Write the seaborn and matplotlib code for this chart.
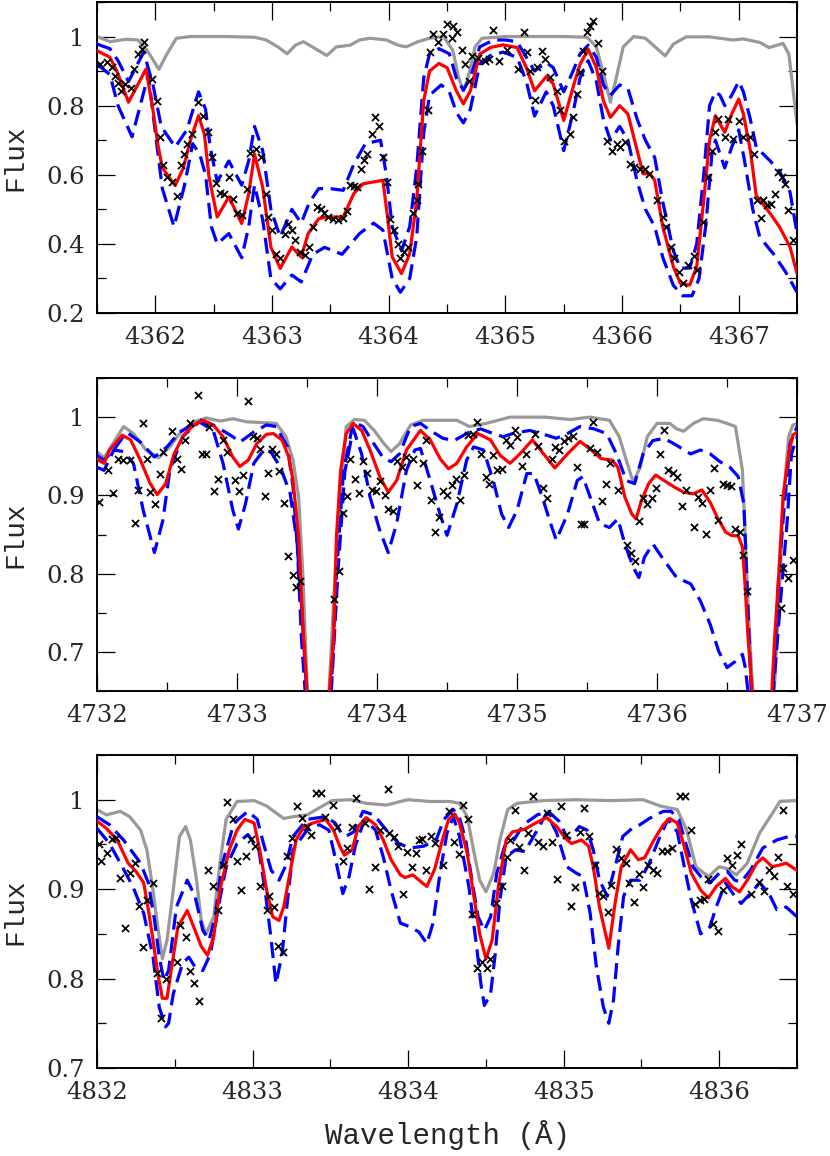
import numpy as np
import matplotlib
matplotlib.use("Agg")
import matplotlib.pyplot as plt
from matplotlib.ticker import MultipleLocator, FuncFormatter
import seaborn as sns

sns.set_style("ticks")
plt.rcParams['font.family'] = ['DejaVu Serif']

# ---------------- panel 1 : 4361.5 - 4367.5 ----------------
gray1 = [(4361.5, 1.0), (4361.61, 0.985), (4361.75, 0.992), (4361.85, 0.99), (4361.93, 0.96),
         (4362.03, 0.905), (4362.10, 0.95), (4362.18, 0.995), (4362.3, 1.0), (4362.6, 1.0),
         (4362.85, 0.998), (4362.95, 0.99), (4363.05, 0.97), (4363.13, 0.95), (4363.2, 0.975),
         (4363.27, 0.985), (4363.37, 0.965), (4363.47, 0.945), (4363.55, 0.97), (4363.67, 0.975),
         (4363.75, 0.99), (4363.84, 0.995), (4363.98, 0.99), (4364.08, 0.975), (4364.15, 0.97),
         (4364.25, 0.985), (4364.35, 0.995), (4364.47, 1.0), (4364.55, 0.96), (4364.6, 0.88),
         (4364.64, 0.843), (4364.68, 0.88), (4364.74, 0.97), (4364.80, 0.995), (4365.0, 1.0),
         (4365.5, 1.0), (4365.70, 0.998), (4365.78, 0.97), (4365.85, 0.88), (4365.90, 0.81),
         (4365.95, 0.88), (4366.01, 0.97), (4366.1, 1.0), (4366.2, 0.995), (4366.3, 0.965),
         (4366.37, 0.944), (4366.44, 0.978), (4366.55, 0.999), (4366.75, 0.999), (4366.95, 0.99),
         (4367.04, 0.993), (4367.18, 0.983), (4367.26, 0.968), (4367.38, 0.98), (4367.43, 0.949),
         (4367.47, 0.834), (4367.5, 0.747)]
red1 = [(4361.5, 0.959), (4361.61, 0.94), (4361.67, 0.90), (4361.77, 0.81), (4361.92, 0.906),
        (4361.98, 0.786), (4362.02, 0.69), (4362.06, 0.62), (4362.17, 0.569), (4362.24, 0.62),
        (4362.30, 0.70), (4362.37, 0.771), (4362.42, 0.718), (4362.46, 0.593), (4362.53, 0.478),
        (4362.63, 0.536), (4362.74, 0.459), (4362.80, 0.545), (4362.85, 0.66), (4362.92, 0.564),
        (4362.99, 0.391), (4363.07, 0.329), (4363.17, 0.391), (4363.25, 0.362), (4363.31, 0.43),
        (4363.40, 0.473), (4363.47, 0.478), (4363.61, 0.478), (4363.70, 0.545), (4363.78, 0.574),
        (4363.95, 0.584), (4363.99, 0.478), (4364.03, 0.362), (4364.11, 0.314), (4364.18, 0.372),
        (4364.24, 0.526), (4364.30, 0.814), (4364.35, 0.90), (4364.43, 0.922), (4364.50, 0.91),
        (4364.58, 0.843), (4364.64, 0.805), (4364.70, 0.843), (4364.78, 0.949), (4364.87, 0.968),
        (4364.98, 0.976), (4365.10, 0.968), (4365.18, 0.91), (4365.25, 0.843), (4365.35, 0.884),
        (4365.41, 0.863), (4365.50, 0.757), (4365.58, 0.853), (4365.64, 0.92), (4365.71, 0.963),
        (4365.78, 0.91), (4365.84, 0.814), (4365.90, 0.766), (4365.98, 0.80), (4366.05, 0.776),
        (4366.13, 0.67), (4366.18, 0.603), (4366.24, 0.603), (4366.28, 0.584), (4366.35, 0.449),
        (4366.44, 0.334), (4366.50, 0.286), (4366.58, 0.281), (4366.64, 0.334), (4366.70, 0.526),
        (4366.75, 0.70), (4366.80, 0.771), (4366.84, 0.747), (4366.88, 0.723), (4366.94, 0.776),
        (4367.00, 0.819), (4367.04, 0.776), (4367.10, 0.67), (4367.15, 0.54), (4367.27, 0.488),
        (4367.35, 0.449), (4367.44, 0.391), (4367.5, 0.314)]
up1 = [(4361.5, 0.978), (4361.61, 0.965), (4361.68, 0.93), (4361.77, 0.87), (4361.90, 0.955),
       (4361.98, 0.86), (4362.05, 0.74), (4362.17, 0.68), (4362.27, 0.73), (4362.37, 0.84),
       (4362.43, 0.79), (4362.47, 0.68), (4362.53, 0.58), (4362.63, 0.64), (4362.74, 0.57),
       (4362.80, 0.64), (4362.85, 0.74), (4362.92, 0.67), (4362.99, 0.50), (4363.07, 0.42),
       (4363.17, 0.50), (4363.25, 0.46), (4363.32, 0.52), (4363.40, 0.56), (4363.50, 0.56),
       (4363.61, 0.555), (4363.70, 0.63), (4363.80, 0.69), (4363.93, 0.70), (4363.98, 0.60),
       (4364.03, 0.45), (4364.11, 0.38), (4364.18, 0.45), (4364.24, 0.62), (4364.30, 0.88),
       (4364.35, 0.95), (4364.43, 0.965), (4364.52, 0.95), (4364.58, 0.88), (4364.64, 0.845),
       (4364.70, 0.88), (4364.78, 0.97), (4364.9, 0.99), (4365.0, 0.99), (4365.1, 0.985),
       (4365.18, 0.94), (4365.25, 0.90), (4365.35, 0.925), (4365.41, 0.91), (4365.50, 0.84),
       (4365.58, 0.90), (4365.64, 0.95), (4365.71, 0.975), (4365.78, 0.94), (4365.84, 0.86),
       (4365.90, 0.83), (4365.98, 0.86), (4366.05, 0.85), (4366.13, 0.76), (4366.20, 0.70),
       (4366.28, 0.65), (4366.35, 0.52), (4366.44, 0.38), (4366.50, 0.33), (4366.58, 0.33),
       (4366.64, 0.40), (4366.70, 0.60), (4366.75, 0.80), (4366.80, 0.84), (4366.84, 0.83),
       (4366.88, 0.80), (4366.94, 0.83), (4367.00, 0.87), (4367.04, 0.84), (4367.10, 0.76),
       (4367.15, 0.68), (4367.27, 0.64), (4367.35, 0.61), (4367.44, 0.55), (4367.5, 0.43)]
lo1 = [(4361.5, 0.92), (4361.61, 0.89), (4361.68, 0.80), (4361.80, 0.71), (4361.94, 0.89),
       (4362.0, 0.72), (4362.06, 0.56), (4362.16, 0.45), (4362.25, 0.57), (4362.32, 0.69),
       (4362.38, 0.66), (4362.43, 0.60), (4362.48, 0.45), (4362.53, 0.40), (4362.63, 0.43),
       (4362.74, 0.36), (4362.80, 0.45), (4362.85, 0.57), (4362.92, 0.47), (4362.99, 0.30),
       (4363.07, 0.27), (4363.17, 0.31), (4363.25, 0.29), (4363.35, 0.37), (4363.45, 0.39),
       (4363.6, 0.37), (4363.75, 0.43), (4363.87, 0.46), (4363.95, 0.44), (4364.03, 0.30),
       (4364.1, 0.26), (4364.18, 0.30), (4364.24, 0.42), (4364.30, 0.72), (4364.35, 0.83),
       (4364.45, 0.86), (4364.52, 0.84), (4364.58, 0.78), (4364.64, 0.75), (4364.70, 0.79),
       (4364.78, 0.92), (4364.87, 0.945), (4364.98, 0.955), (4365.10, 0.94), (4365.18, 0.87),
       (4365.25, 0.77), (4365.35, 0.84), (4365.41, 0.80), (4365.50, 0.67), (4365.58, 0.78),
       (4365.64, 0.88), (4365.71, 0.93), (4365.78, 0.87), (4365.84, 0.76), (4365.90, 0.70),
       (4365.98, 0.74), (4366.05, 0.70), (4366.13, 0.58), (4366.20, 0.50), (4366.28, 0.45),
       (4366.35, 0.36), (4366.44, 0.28), (4366.52, 0.25), (4366.60, 0.25), (4366.66, 0.30),
       (4366.72, 0.46), (4366.77, 0.66), (4366.80, 0.70), (4366.88, 0.62), (4366.94, 0.68),
       (4367.00, 0.73), (4367.05, 0.64), (4367.12, 0.50), (4367.18, 0.42), (4367.30, 0.37),
       (4367.40, 0.32), (4367.5, 0.26)]
obs1 = [(4361.526, 0.920), (4361.583, 0.925), (4361.626, 0.911), (4361.654, 0.887), (4361.683, 0.867),
        (4361.703, 0.843), (4361.740, 0.862), (4361.789, 0.851), (4361.817, 0.906), (4361.849, 0.949),
        (4361.883, 0.963), (4361.903, 0.983), (4361.969, 0.877), (4362.011, 0.814), (4362.040, 0.709),
        (4362.069, 0.627), (4362.097, 0.593), (4362.140, 0.579), (4362.189, 0.540), (4362.217, 0.627),
        (4362.246, 0.661), (4362.274, 0.688), (4362.311, 0.718), (4362.369, 0.810), (4362.411, 0.771),
        (4362.454, 0.723), (4362.483, 0.651), (4362.520, 0.576), (4362.554, 0.547), (4362.589, 0.545),
        (4362.634, 0.593), (4362.669, 0.531), (4362.703, 0.488), (4362.746, 0.483), (4362.783, 0.560),
        (4362.811, 0.662), (4362.863, 0.675), (4362.903, 0.651), (4362.946, 0.545), (4362.969, 0.478),
        (4363.003, 0.439), (4363.034, 0.372), (4363.069, 0.358), (4363.111, 0.430), (4363.140, 0.459),
        (4363.169, 0.439), (4363.197, 0.411), (4363.240, 0.377), (4363.283, 0.367), (4363.320, 0.391),
        (4363.354, 0.449), (4363.383, 0.507), (4363.417, 0.502), (4363.449, 0.488), (4363.483, 0.478),
        (4363.526, 0.473), (4363.569, 0.468), (4363.606, 0.476), (4363.640, 0.495), (4363.669, 0.571),
        (4363.703, 0.569), (4363.731, 0.566), (4363.760, 0.617), (4363.789, 0.643), (4363.811, 0.661),
        (4363.854, 0.718), (4363.886, 0.766), (4363.914, 0.742), (4363.954, 0.651), (4363.983, 0.579),
        (4364.011, 0.473), (4364.046, 0.441), (4364.083, 0.401), (4364.097, 0.358), (4364.131, 0.377),
        (4364.169, 0.391), (4364.211, 0.488), (4364.240, 0.526), (4364.254, 0.574), (4364.283, 0.670),
        (4364.340, 0.786), (4364.354, 0.954), (4364.383, 1.007), (4364.426, 0.983), (4364.469, 1.007),
        (4364.503, 1.037), (4364.540, 0.995), (4364.554, 1.031), (4364.583, 1.012), (4364.626, 0.961),
        (4364.654, 0.920), (4364.691, 0.872), (4364.711, 0.944), (4364.769, 0.939), (4364.826, 0.930),
        (4364.863, 0.935), (4364.891, 1.018), (4364.949, 0.930), (4365.011, 0.961), (4365.111, 0.906),
        (4365.160, 1.014), (4365.189, 0.954), (4365.211, 0.901), (4365.254, 0.817), (4365.269, 0.911),
        (4365.311, 0.959), (4365.340, 0.935), (4365.383, 0.882), (4365.440, 0.843), (4365.469, 0.786),
        (4365.503, 0.699), (4365.554, 0.718), (4365.577, 0.766), (4365.611, 0.834), (4365.640, 0.896),
        (4365.669, 0.959), (4365.697, 1.012), (4365.726, 1.031), (4365.754, 1.045), (4365.791, 0.980),
        (4365.826, 0.901), (4365.869, 0.699), (4365.911, 0.670), (4365.954, 0.689), (4365.983, 0.680),
        (4366.026, 0.694), (4366.069, 0.632), (4366.103, 0.622), (4366.154, 0.617), (4366.197, 0.617),
        (4366.234, 0.603), (4366.297, 0.526), (4366.349, 0.478), (4366.377, 0.449), (4366.417, 0.391),
        (4366.446, 0.358), (4366.491, 0.319), (4366.526, 0.286), (4366.563, 0.338), (4366.617, 0.364),
        (4366.646, 0.324), (4366.691, 0.463), (4366.740, 0.593), (4366.769, 0.670), (4366.797, 0.723),
        (4366.826, 0.762), (4366.883, 0.709), (4366.911, 0.762), (4366.949, 0.704), (4367.006, 0.757),
        (4367.040, 0.709), (4367.097, 0.709), (4367.131, 0.659), (4367.154, 0.528), (4367.189, 0.476),
        (4367.211, 0.528), (4367.240, 0.514), (4367.274, 0.516), (4367.311, 0.545), (4367.340, 0.608),
        (4367.369, 0.593), (4367.397, 0.574), (4367.426, 0.497), (4367.463, 0.411)]

# ---------------- panel 2 : 4732 - 4737 ----------------
gray2 = [(4732.0, 0.956), (4732.05, 0.948), (4732.12, 0.968), (4732.19, 0.988), (4732.26, 0.979),
         (4732.35, 0.958), (4732.44, 0.948), (4732.52, 0.962), (4732.59, 0.979), (4732.69, 0.994),
         (4732.78, 0.999), (4732.88, 0.995), (4732.97, 0.998), (4733.07, 0.994), (4733.19, 0.993),
         (4733.28, 0.992), (4733.35, 0.975), (4733.40, 0.945), (4733.44, 0.898), (4733.47, 0.80),
         (4733.50, 0.66), (4733.58, 0.45), (4733.66, 0.66), (4733.70, 0.80), (4733.74, 0.91),
         (4733.78, 0.988), (4733.84, 0.997), (4733.91, 0.996), (4733.98, 0.983), (4734.05, 0.966),
         (4734.10, 0.956), (4734.16, 0.966), (4734.24, 0.99), (4734.33, 0.996), (4734.57, 0.996),
         (4734.66, 0.988), (4734.78, 0.992), (4734.95, 1.0), (4735.2, 1.0), (4735.38, 0.997),
         (4735.52, 1.0), (4735.66, 0.996), (4735.73, 0.975), (4735.78, 0.945), (4735.83, 0.917),
         (4735.88, 0.936), (4735.93, 0.975), (4736.0, 0.992), (4736.09, 0.992), (4736.14, 0.985),
         (4736.19, 0.982), (4736.26, 0.992), (4736.33, 0.998), (4736.43, 0.996), (4736.50, 0.992),
         (4736.56, 0.988), (4736.61, 0.932), (4736.63, 0.847), (4736.65, 0.761), (4736.68, 0.66),
         (4736.75, 0.45), (4736.84, 0.66), (4736.88, 0.80), (4736.90, 0.889), (4736.94, 0.975),
         (4736.97, 0.99), (4737.0, 0.992)]
red2 = [(4732.0, 0.946), (4732.05, 0.941), (4732.09, 0.958), (4732.18, 0.977), (4732.24, 0.971),
        (4732.31, 0.945), (4732.38, 0.915), (4732.43, 0.901), (4732.49, 0.915), (4732.55, 0.953),
        (4732.62, 0.977), (4732.69, 0.990), (4732.76, 0.996), (4732.83, 0.990), (4732.90, 0.975),
        (4732.97, 0.949), (4733.02, 0.937), (4733.08, 0.945), (4733.14, 0.966), (4733.21, 0.978),
        (4733.26, 0.979), (4733.32, 0.971), (4733.37, 0.949), (4733.40, 0.919), (4733.44, 0.847),
        (4733.47, 0.735), (4733.50, 0.649), (4733.58, 0.42), (4733.66, 0.649), (4733.69, 0.718),
        (4733.71, 0.847), (4733.74, 0.932), (4733.78, 0.979), (4733.83, 0.992), (4733.89, 0.983),
        (4733.95, 0.958), (4734.02, 0.924), (4734.08, 0.904), (4734.14, 0.919), (4734.21, 0.958),
        (4734.31, 0.983), (4734.38, 0.971), (4734.45, 0.947), (4734.51, 0.934), (4734.57, 0.941),
        (4734.64, 0.962), (4734.72, 0.979), (4734.81, 0.971), (4734.88, 0.951), (4734.95, 0.941),
        (4735.02, 0.953), (4735.11, 0.971), (4735.19, 0.953), (4735.27, 0.935), (4735.36, 0.953),
        (4735.45, 0.969), (4735.53, 0.958), (4735.60, 0.947), (4735.68, 0.945), (4735.72, 0.936),
        (4735.77, 0.898), (4735.82, 0.876), (4735.85, 0.870), (4735.89, 0.894), (4735.94, 0.915),
        (4735.99, 0.926), (4736.05, 0.919), (4736.12, 0.911), (4736.19, 0.904), (4736.26, 0.902),
        (4736.32, 0.907), (4736.38, 0.891), (4736.43, 0.872), (4736.49, 0.853), (4736.53, 0.849),
        (4736.58, 0.848), (4736.61, 0.834), (4736.63, 0.782), (4736.65, 0.718), (4736.68, 0.649),
        (4736.75, 0.42), (4736.82, 0.649), (4736.84, 0.718), (4736.87, 0.80), (4736.90, 0.898),
        (4736.94, 0.953), (4736.97, 0.977), (4737.0, 0.981)]
up2 = [(4732.0, 0.951), (4732.05, 0.945), (4732.12, 0.958), (4732.21, 0.981), (4732.31, 0.968),
       (4732.41, 0.949), (4732.50, 0.962), (4732.59, 0.981), (4732.74, 0.996), (4732.85, 0.988),
       (4732.97, 0.975), (4733.02, 0.968), (4733.12, 0.981), (4733.21, 0.990), (4733.28, 0.988),
       (4733.36, 0.962), (4733.40, 0.911), (4733.46, 0.761), (4733.50, 0.64), (4733.58, 0.42),
       (4733.67, 0.64), (4733.71, 0.80), (4733.76, 0.93), (4733.83, 0.994), (4733.90, 0.988),
       (4733.97, 0.968), (4734.04, 0.949), (4734.10, 0.943), (4734.16, 0.953), (4734.24, 0.988),
       (4734.31, 0.992), (4734.38, 0.983), (4734.47, 0.973), (4734.55, 0.970), (4734.66, 0.981),
       (4734.74, 0.985), (4734.83, 0.979), (4734.90, 0.975), (4734.97, 0.979), (4735.09, 0.983),
       (4735.21, 0.977), (4735.28, 0.973), (4735.36, 0.979), (4735.45, 0.988), (4735.55, 0.985),
       (4735.64, 0.979), (4735.71, 0.953), (4735.78, 0.919), (4735.84, 0.915), (4735.90, 0.953),
       (4735.97, 0.970), (4736.05, 0.973), (4736.14, 0.964), (4736.24, 0.953), (4736.31, 0.958),
       (4736.38, 0.953), (4736.45, 0.943), (4736.52, 0.936), (4736.58, 0.924), (4736.62, 0.889),
       (4736.64, 0.80), (4736.67, 0.66), (4736.75, 0.42), (4736.83, 0.66), (4736.87, 0.80),
       (4736.90, 0.868), (4736.95, 0.966), (4737.0, 0.988)]
lo2 = [(4732.0, 0.936), (4732.05, 0.932), (4732.12, 0.958), (4732.19, 0.956), (4732.26, 0.941),
       (4732.33, 0.881), (4732.41, 0.827), (4732.47, 0.868), (4732.52, 0.932), (4732.61, 0.975),
       (4732.73, 0.994), (4732.83, 0.983), (4732.90, 0.941), (4732.97, 0.881), (4733.01, 0.857),
       (4733.06, 0.889), (4733.12, 0.941), (4733.19, 0.958), (4733.24, 0.956), (4733.31, 0.936),
       (4733.38, 0.902), (4733.43, 0.838), (4733.46, 0.718), (4733.49, 0.64), (4733.58, 0.40),
       (4733.67, 0.64), (4733.72, 0.80), (4733.77, 0.93), (4733.83, 0.985), (4733.89, 0.953),
       (4733.95, 0.898), (4734.02, 0.855), (4734.08, 0.827), (4734.14, 0.864), (4734.21, 0.932),
       (4734.27, 0.958), (4734.31, 0.96), (4734.38, 0.919), (4734.45, 0.876), (4734.50, 0.849),
       (4734.57, 0.889), (4734.64, 0.945), (4734.69, 0.962), (4734.76, 0.958), (4734.83, 0.919),
       (4734.89, 0.876), (4734.94, 0.859), (4735.0, 0.881), (4735.07, 0.928), (4735.12, 0.928),
       (4735.18, 0.898), (4735.24, 0.864), (4735.28, 0.843), (4735.36, 0.876), (4735.43, 0.919),
       (4735.47, 0.924), (4735.53, 0.894), (4735.59, 0.864), (4735.66, 0.859), (4735.72, 0.870),
       (4735.77, 0.838), (4735.83, 0.808), (4735.87, 0.795), (4735.91, 0.821), (4735.97, 0.838),
       (4736.05, 0.817), (4736.14, 0.795), (4736.24, 0.787), (4736.31, 0.765), (4736.38, 0.735),
       (4736.44, 0.701), (4736.50, 0.680), (4736.56, 0.688), (4736.61, 0.697), (4736.63, 0.68),
       (4736.65, 0.649), (4736.75, 0.40), (4736.83, 0.649), (4736.88, 0.761), (4736.93, 0.868),
       (4736.96, 0.953), (4737.0, 0.975)]
obs2 = [(4732.017, 0.891), (4732.081, 0.932), (4732.117, 0.903), (4732.152, 0.946), (4732.183, 0.945),
        (4732.236, 0.945), (4732.271, 0.865), (4732.295, 0.907), (4732.326, 0.992), (4732.355, 0.947),
        (4732.379, 0.904), (4732.414, 0.889), (4732.450, 0.927), (4732.474, 0.956), (4732.536, 0.982),
        (4732.569, 0.947), (4732.600, 0.934), (4732.629, 0.971), (4732.664, 0.993), (4732.719, 1.028),
        (4732.748, 0.953), (4732.776, 0.953), (4732.802, 0.987), (4732.838, 0.906), (4732.867, 0.921),
        (4732.898, 0.971), (4732.931, 0.956), (4732.986, 0.920), (4733.017, 0.905), (4733.045, 0.926),
        (4733.076, 1.021), (4733.117, 0.976), (4733.140, 0.973), (4733.164, 0.959), (4733.200, 0.899),
        (4733.224, 0.928), (4733.252, 0.959), (4733.279, 0.953), (4733.302, 0.931), (4733.336, 0.890),
        (4733.367, 0.822), (4733.398, 0.798), (4733.421, 0.783), (4733.450, 0.790), (4733.695, 0.768),
        (4733.729, 0.803), (4733.755, 0.877), (4733.783, 0.899), (4733.807, 0.947), (4733.843, 0.921),
        (4733.874, 0.903), (4733.902, 0.944), (4733.926, 0.928), (4733.962, 0.907), (4733.993, 0.905),
        (4734.021, 0.919), (4734.057, 0.900), (4734.081, 0.883), (4734.112, 0.880), (4734.140, 0.944),
        (4734.176, 0.936), (4734.207, 0.949), (4734.255, 0.947), (4734.288, 0.913), (4734.326, 0.941),
        (4734.350, 0.971), (4734.384, 0.894), (4734.415, 0.853), (4734.446, 0.873), (4734.474, 0.906),
        (4734.503, 0.900), (4734.534, 0.913), (4734.565, 0.921), (4734.593, 0.894), (4734.622, 0.926),
        (4734.653, 0.977), (4734.688, 0.979), (4734.712, 0.994), (4734.741, 0.953), (4734.779, 0.924),
        (4734.803, 0.915), (4734.831, 0.952), (4734.860, 0.932), (4734.891, 0.934), (4734.922, 0.971),
        (4734.950, 0.965), (4734.986, 0.983), (4735.003, 0.975), (4735.034, 0.938), (4735.065, 0.953),
        (4735.129, 0.979), (4735.148, 0.963), (4735.184, 0.909), (4735.212, 0.897), (4735.248, 0.946),
        (4735.272, 0.962), (4735.303, 0.958), (4735.336, 0.969), (4735.367, 0.973), (4735.398, 0.976),
        (4735.426, 0.936), (4735.455, 0.864), (4735.479, 0.863), (4735.522, 0.960), (4735.541, 0.994),
        (4735.574, 0.956), (4735.605, 0.893), (4735.636, 0.915), (4735.665, 0.941), (4735.724, 0.907),
        (4735.784, 0.837), (4735.812, 0.827), (4735.843, 0.816), (4735.874, 0.867), (4735.903, 0.897),
        (4735.931, 0.889), (4735.962, 0.897), (4735.993, 0.910), (4736.022, 0.953), (4736.053, 0.983),
        (4736.081, 0.932), (4736.117, 0.928), (4736.141, 0.923), (4736.176, 0.886), (4736.207, 0.907),
        (4736.265, 0.859), (4736.296, 0.898), (4736.322, 0.890), (4736.350, 0.851), (4736.379, 0.907),
        (4736.410, 0.935), (4736.438, 0.869), (4736.469, 0.915), (4736.498, 0.913), (4736.527, 0.912),
        (4736.557, 0.857), (4736.593, 0.853), (4736.612, 0.824), (4736.640, 0.778), (4736.883, 0.756),
        (4736.903, 0.807), (4736.938, 0.795), (4736.969, 0.817)]

# ---------------- panel 3 : 4832 - 4836.5 ----------------
gray3 = [(4832.0, 0.989), (4832.06, 0.983), (4832.15, 0.987), (4832.21, 0.981), (4832.28, 0.966),
         (4832.32, 0.944), (4832.36, 0.899), (4832.39, 0.858), (4832.42, 0.822), (4832.45, 0.843),
         (4832.49, 0.899), (4832.53, 0.959), (4832.57, 0.970), (4832.60, 0.955), (4832.64, 0.910),
         (4832.67, 0.865), (4832.70, 0.850), (4832.75, 0.869), (4832.79, 0.929), (4832.83, 0.978),
         (4832.90, 0.998), (4833.01, 0.999), (4833.09, 0.993), (4833.20, 0.979), (4833.26, 0.981),
         (4833.35, 0.983), (4833.43, 0.991), (4833.51, 0.999), (4833.63, 1.0), (4833.73, 0.996),
         (4833.86, 0.994), (4833.95, 0.998), (4834.0, 1.0), (4834.14, 0.998), (4834.27, 0.998),
         (4834.33, 0.996), (4834.38, 0.981), (4834.42, 0.944), (4834.46, 0.910), (4834.50, 0.897),
         (4834.55, 0.918), (4834.59, 0.955), (4834.64, 0.989), (4834.70, 0.996), (4834.87, 0.999),
         (4835.08, 1.0), (4835.30, 0.999), (4835.51, 1.0), (4835.62, 0.993), (4835.73, 0.989),
         (4835.79, 0.966), (4835.85, 0.925), (4835.93, 0.914), (4836.0, 0.925), (4836.05, 0.923),
         (4836.11, 0.916), (4836.18, 0.929), (4836.26, 0.963), (4836.35, 0.987), (4836.39, 0.998),
         (4836.5, 0.999)]
red3 = [(4832.0, 0.976), (4832.06, 0.968), (4832.13, 0.955), (4832.20, 0.929), (4832.25, 0.920),
        (4832.30, 0.907), (4832.33, 0.877), (4832.36, 0.843), (4832.39, 0.806), (4832.42, 0.778),
        (4832.45, 0.778), (4832.48, 0.813), (4832.52, 0.858), (4832.58, 0.876), (4832.63, 0.854),
        (4832.67, 0.836), (4832.71, 0.826), (4832.75, 0.847), (4832.79, 0.899), (4832.85, 0.944),
        (4832.90, 0.966), (4832.95, 0.978), (4833.01, 0.974), (4833.05, 0.940), (4833.09, 0.899),
        (4833.13, 0.869), (4833.17, 0.865), (4833.20, 0.880), (4833.24, 0.918), (4833.28, 0.955),
        (4833.33, 0.970), (4833.39, 0.974), (4833.47, 0.978), (4833.52, 0.966), (4833.56, 0.948),
        (4833.59, 0.938), (4833.64, 0.944), (4833.68, 0.970), (4833.73, 0.980), (4833.79, 0.972),
        (4833.84, 0.955), (4833.89, 0.933), (4833.95, 0.916), (4833.98, 0.913), (4834.03, 0.916),
        (4834.07, 0.910), (4834.12, 0.903), (4834.17, 0.922), (4834.22, 0.955), (4834.26, 0.978),
        (4834.30, 0.984), (4834.33, 0.974), (4834.38, 0.940), (4834.42, 0.895), (4834.46, 0.850),
        (4834.50, 0.822), (4834.54, 0.843), (4834.58, 0.903), (4834.63, 0.955), (4834.67, 0.964),
        (4834.75, 0.967), (4834.82, 0.974), (4834.89, 0.980), (4834.955, 0.970), (4835.01, 0.957),
        (4835.05, 0.951), (4835.115, 0.955), (4835.16, 0.948), (4835.19, 0.925), (4835.23, 0.880),
        (4835.29, 0.834), (4835.33, 0.884), (4835.37, 0.925), (4835.43, 0.944), (4835.48, 0.933),
        (4835.52, 0.935), (4835.58, 0.955), (4835.64, 0.972), (4835.68, 0.979), (4835.73, 0.974),
        (4835.77, 0.951), (4835.82, 0.918), (4835.88, 0.899), (4835.93, 0.890), (4835.98, 0.903),
        (4836.04, 0.912), (4836.08, 0.903), (4836.13, 0.897), (4836.18, 0.910), (4836.24, 0.929),
        (4836.28, 0.935), (4836.34, 0.925), (4836.39, 0.927), (4836.43, 0.929), (4836.5, 0.921)]
up3 = [(4832.0, 0.981), (4832.08, 0.972), (4832.17, 0.955), (4832.28, 0.929), (4832.33, 0.907),
       (4832.37, 0.865), (4832.40, 0.824), (4832.43, 0.798), (4832.46, 0.809), (4832.51, 0.880),
       (4832.58, 0.910), (4832.63, 0.892), (4832.68, 0.854), (4832.72, 0.843), (4832.76, 0.869),
       (4832.80, 0.925), (4832.88, 0.974), (4832.97, 0.987), (4833.03, 0.978), (4833.07, 0.951),
       (4833.12, 0.921), (4833.17, 0.910), (4833.21, 0.925), (4833.26, 0.959), (4833.35, 0.978),
       (4833.47, 0.981), (4833.53, 0.974), (4833.57, 0.963), (4833.60, 0.959), (4833.65, 0.964),
       (4833.71, 0.987), (4833.78, 0.983), (4833.86, 0.966), (4833.94, 0.951), (4834.01, 0.946),
       (4834.1, 0.948), (4834.18, 0.955), (4834.23, 0.978), (4834.29, 0.989), (4834.33, 0.98),
       (4834.37, 0.955), (4834.41, 0.910), (4834.45, 0.869), (4834.49, 0.854), (4834.53, 0.869),
       (4834.57, 0.918), (4834.62, 0.948), (4834.68, 0.955), (4834.74, 0.972), (4834.83, 0.983),
       (4834.90, 0.987), (4834.97, 0.976), (4835.03, 0.955), (4835.10, 0.970), (4835.15, 0.966),
       (4835.19, 0.944), (4835.23, 0.910), (4835.28, 0.892), (4835.33, 0.925), (4835.38, 0.959),
       (4835.44, 0.968), (4835.49, 0.972), (4835.55, 0.979), (4835.64, 0.987), (4835.69, 0.987),
       (4835.74, 0.978), (4835.79, 0.948), (4835.83, 0.925), (4835.90, 0.910), (4835.94, 0.907),
       (4836.0, 0.918), (4836.05, 0.920), (4836.10, 0.910), (4836.14, 0.908), (4836.20, 0.921),
       (4836.28, 0.946), (4836.37, 0.955), (4836.45, 0.959), (4836.5, 0.959)]
lo3 = [(4832.0, 0.968), (4832.08, 0.951), (4832.15, 0.929), (4832.23, 0.903), (4832.30, 0.873),
       (4832.36, 0.824), (4832.40, 0.768), (4832.44, 0.746), (4832.46, 0.750), (4832.49, 0.783),
       (4832.55, 0.817), (4832.59, 0.824), (4832.63, 0.813), (4832.68, 0.809), (4832.73, 0.828),
       (4832.78, 0.880), (4832.83, 0.925), (4832.90, 0.951), (4832.97, 0.961), (4833.04, 0.944),
       (4833.08, 0.899), (4833.12, 0.843), (4833.15, 0.794), (4833.19, 0.828), (4833.22, 0.880),
       (4833.26, 0.944), (4833.35, 0.966), (4833.43, 0.972), (4833.49, 0.966), (4833.53, 0.936),
       (4833.58, 0.895), (4833.62, 0.914), (4833.66, 0.948), (4833.72, 0.978), (4833.79, 0.966),
       (4833.84, 0.936), (4833.89, 0.899), (4833.95, 0.862), (4834.01, 0.858), (4834.07, 0.852),
       (4834.12, 0.839), (4834.16, 0.862), (4834.205, 0.918), (4834.25, 0.963), (4834.29, 0.981),
       (4834.33, 0.959), (4834.39, 0.903), (4834.44, 0.836), (4834.47, 0.791), (4834.49, 0.770),
       (4834.53, 0.783), (4834.56, 0.828), (4834.59, 0.888), (4834.63, 0.936), (4834.69, 0.944),
       (4834.75, 0.942), (4834.82, 0.963), (4834.89, 0.985), (4834.955, 0.963), (4835.02, 0.925),
       (4835.08, 0.918), (4835.125, 0.914), (4835.17, 0.873), (4835.21, 0.813), (4835.255, 0.768),
       (4835.29, 0.750), (4835.32, 0.776), (4835.35, 0.836), (4835.385, 0.892), (4835.43, 0.910),
       (4835.49, 0.910), (4835.545, 0.927), (4835.61, 0.955), (4835.67, 0.978), (4835.73, 0.964),
       (4835.78, 0.921), (4835.82, 0.888), (4835.88, 0.850), (4835.94, 0.858), (4835.98, 0.880),
       (4836.04, 0.907), (4836.10, 0.892), (4836.14, 0.884), (4836.20, 0.895), (4836.26, 0.907),
       (4836.32, 0.895), (4836.37, 0.877), (4836.43, 0.880), (4836.5, 0.869)]
obs3 = [(4832.011, 0.951), (4832.026, 0.931), (4832.062, 0.940), (4832.099, 0.956), (4832.122, 0.957),
        (4832.148, 0.913), (4832.180, 0.856), (4832.212, 0.918), (4832.244, 0.929), (4832.272, 0.881),
        (4832.298, 0.835), (4832.324, 0.888), (4832.362, 0.907), (4832.384, 0.806), (4832.411, 0.756),
        (4832.444, 0.800), (4832.512, 0.819), (4832.534, 0.860), (4832.572, 0.847), (4832.598, 0.808),
        (4832.626, 0.795), (4832.656, 0.775), (4832.716, 0.921), (4832.748, 0.904), (4832.780, 0.877),
        (4832.808, 0.927), (4832.838, 0.997), (4832.872, 0.978), (4832.898, 0.931), (4832.923, 0.899),
        (4832.958, 0.937), (4832.988, 0.956), (4833.016, 0.948), (4833.048, 0.904), (4833.091, 0.877),
        (4833.108, 0.892), (4833.138, 0.880), (4833.161, 0.836), (4833.193, 0.830), (4833.224, 0.937),
        (4833.251, 0.957), (4833.283, 0.993), (4833.316, 0.979), (4833.348, 0.969), (4833.373, 0.961),
        (4833.408, 1.007), (4833.438, 1.008), (4833.466, 0.981), (4833.515, 0.994), (4833.545, 0.970),
        (4833.579, 0.932), (4833.605, 0.946), (4833.637, 0.970), (4833.665, 1.002), (4833.723, 0.974),
        (4833.751, 0.900), (4833.787, 0.925), (4833.819, 0.966), (4833.873, 1.012), (4833.879, 0.963),
        (4833.909, 0.958), (4833.937, 0.948), (4833.969, 0.895), (4833.995, 0.942), (4834.023, 0.925),
        (4834.051, 0.940), (4834.072, 0.955), (4834.087, 0.956), (4834.115, 0.921), (4834.145, 0.959),
        (4834.173, 0.952), (4834.226, 0.927), (4834.265, 0.987), (4834.295, 0.953), (4834.329, 0.939),
        (4834.355, 0.994), (4834.387, 0.978), (4834.408, 0.872), (4834.441, 0.812), (4834.473, 0.819),
        (4834.505, 0.812), (4834.526, 0.822), (4834.565, 0.884), (4834.601, 0.904), (4834.633, 0.936),
        (4834.655, 0.955), (4834.687, 0.989), (4834.715, 0.947), (4834.745, 0.921), (4834.773, 0.963),
        (4834.805, 1.004), (4834.837, 0.953), (4834.865, 0.948), (4834.891, 0.985), (4834.923, 0.953),
        (4834.955, 0.911), (4834.983, 0.993), (4835.015, 0.961), (4835.045, 0.881), (4835.073, 0.902),
        (4835.105, 0.964), (4835.131, 0.991), (4835.165, 0.959), (4835.201, 0.927), (4835.229, 0.896),
        (4835.255, 0.892), (4835.283, 0.874), (4835.304, 0.905), (4835.336, 0.945), (4835.368, 0.935),
        (4835.401, 0.929), (4835.422, 0.907), (4835.454, 0.886), (4835.484, 0.917), (4835.512, 0.902),
        (4835.544, 0.927), (4835.572, 0.921), (4835.602, 0.918), (4835.634, 0.943), (4835.662, 0.943),
        (4835.694, 0.946), (4835.748, 1.004), (4835.780, 1.004), (4835.816, 0.966), (4835.844, 0.883),
        (4835.876, 0.888), (4835.902, 0.889), (4835.925, 0.911), (4835.962, 0.861), (4835.994, 0.853),
        (4836.022, 0.899), (4836.052, 0.935), (4836.084, 0.927), (4836.112, 0.938), (4836.142, 0.951),
        (4836.202, 0.895), (4836.258, 0.908), (4836.288, 0.898), (4836.322, 0.921), (4836.352, 0.915),
        (4836.380, 0.936), (4836.412, 0.988), (4836.438, 0.903), (4836.472, 0.895)]

panels = [
    dict(gray=gray1, red=red1, up=up1, lo=lo1, obs=obs1, xlim=(4361.5, 4367.5), ylim=(0.2, 1.1),
         ymaj=0.2, ymin=0.1, rect=[0.1169, 0.7292, 0.8434, 0.2691]),
    dict(gray=gray2, red=red2, up=up2, lo=lo2, obs=obs2, xlim=(4732, 4737), ylim=(0.65, 1.05),
         ymaj=0.1, ymin=0.05, rect=[0.1169, 0.4022, 0.8434, 0.2708]),
    dict(gray=gray3, red=red3, up=up3, lo=lo3, obs=obs3, xlim=(4832, 4836.5), ylim=(0.7, 1.05),
         ymaj=0.1, ymin=0.05, rect=[0.1169, 0.0761, 0.8434, 0.2708]),
]

fig = plt.figure(figsize=(8.3, 11.56), dpi=100)
fmt = FuncFormatter(lambda v, p: '%g' % round(v, 3))
dash = (0, (5, 2.4))

for pan in panels:
    ax = fig.add_axes(pan['rect'])
    gx, gy = np.array(pan['gray']).T
    rx, ry = np.array(pan['red']).T
    ux, uy = np.array(pan['up']).T
    lx, ly = np.array(pan['lo']).T
    ox, oy = np.array(pan['obs']).T

    sns.lineplot(x=gx, y=gy, ax=ax, color='#999999', lw=2.3, estimator=None, zorder=2)
    sns.lineplot(x=ux, y=uy, ax=ax, color='#0000ff', lw=2.3, linestyle=dash, estimator=None, zorder=3)
    sns.lineplot(x=lx, y=ly, ax=ax, color='#0000ff', lw=2.3, linestyle=dash, estimator=None, zorder=3)
    sns.lineplot(x=rx, y=ry, ax=ax, color='#ff0000', lw=2.3, estimator=None, zorder=4)
    sns.scatterplot(x=ox, y=oy, ax=ax, marker='x', color='black', s=26, linewidth=1.3, zorder=5)

    ax.set_xlim(*pan['xlim'])
    ax.set_ylim(*pan['ylim'])
    ax.xaxis.set_major_locator(MultipleLocator(1))
    ax.xaxis.set_minor_locator(MultipleLocator(0.5))
    ax.yaxis.set_major_locator(MultipleLocator(pan['ymaj']))
    ax.yaxis.set_minor_locator(MultipleLocator(pan['ymin']))
    ax.xaxis.set_major_formatter(FuncFormatter(lambda v, p: '%d' % round(v)))
    ax.yaxis.set_major_formatter(fmt)
    ax.tick_params(which='both', direction='in', top=True, right=True, width=0.9, color='black')
    ax.tick_params(which='major', length=13, labelsize=17.5, pad=9)
    ax.tick_params(which='minor', length=6.5)
    for sp in ax.spines.values():
        sp.set_linewidth(1.4)
        sp.set_color('black')
    ax.set_ylabel('Flux', family='Liberation Mono', fontsize=20)
    ax.yaxis.set_label_coords(-0.098, 0.5)
    ax.set_xlabel('')

fig.text(0.5386, 1 - 1135 / 1156, 'Wavelength (Å)', family='Liberation Mono', fontsize=21,
         ha='center', va='center')

fig.savefig('out.png', dpi=100)
